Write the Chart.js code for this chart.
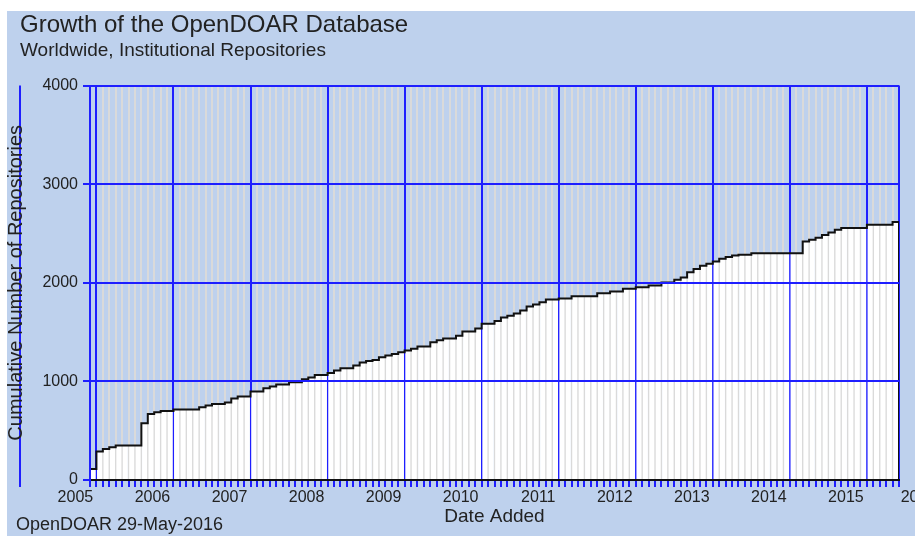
<!DOCTYPE html>
<html>
<head>
<meta charset="utf-8">
<title>Growth of the OpenDOAR Database</title>
<script src="https://cdn.jsdelivr.net/npm/chart.js@4/dist/chart.umd.min.js"></script>
<style>
  html, body { margin: 0; padding: 0; background: #ffffff; }
  #chart { display: block; background: #ffffff; }
</style>
</head>
<body>
<canvas id="chart" width="915" height="536"></canvas>
<script>
// Year labels along the date axis (the last one is cut off by the picture edge)
const yearLabels = ['2005', '2006', '2007', '2008', '2009', '2010', '2011', '2012', '2013', '2014', '2015', '2016'];

// Cumulative number of institutional repositories, one value per month
const cumulativeRepos = [
    112, 288, 315, 332, 349, 349, 349, 349, 575, 670, 687, 700,
    700, 714, 714, 714, 714, 738, 755, 772, 772, 785, 826, 846,
    846, 897, 897, 931, 948, 968, 968, 992, 992, 1022, 1039, 1066,
    1066, 1086, 1110, 1134, 1134, 1161, 1191, 1208, 1218, 1245, 1262, 1279,
    1296, 1313, 1330, 1354, 1354, 1398, 1418, 1435, 1435, 1462, 1506, 1506,
    1536, 1584, 1584, 1612, 1648, 1665, 1689, 1719, 1760, 1780, 1804, 1831,
    1831, 1841, 1841, 1864, 1864, 1864, 1864, 1895, 1895, 1912, 1912, 1939,
    1939, 1956, 1956, 1973, 1973, 2003, 2003, 2030, 2054, 2108, 2139, 2173,
    2193, 2216, 2244, 2261, 2277, 2284, 2284, 2300, 2300, 2300, 2300, 2300,
    2300, 2300, 2300, 2420, 2437, 2457, 2484, 2511, 2538, 2555, 2555, 2555,
    2555, 2589, 2589, 2589, 2589, 2616
];

// Y axis ticks
const yTicks = [0, 1000, 2000, 3000, 4000];

const BG = '#bed1ed';
const BLUE = 'rgb(30, 30, 255)';
const GRAY = '#dadada';
const NONE = 'rgba(0, 0, 0, 0)';
const monthCount = cumulativeRepos.length;

// labels sit just right of each year's first month, the last one past the end
const yearTickPos = yearLabels.map((y, k) => k < yearLabels.length - 1 ? k * 12 + 0.5 : monthCount + 5.8);

function monthGridColor(ctx) {
    const v = ctx.tick.value;
    if (!Number.isInteger(v)) return NONE;
    if (v === 0 || v === monthCount || v % 12 === 1) return BLUE;
    return GRAY;
}

// panel background, footnote and the stray axis line at the far left
const footnote = {
    id: 'footnote',
    beforeDraw(chart) {
        const c = chart.ctx;
        const area = chart.chartArea;
        c.save();
        c.fillStyle = BG;
        c.fillRect(7, 11, chart.width - 7, chart.height - 11);
        c.strokeStyle = BLUE;
        c.lineWidth = 2;
        c.beginPath();
        c.moveTo(20, area.top);
        c.lineTo(20, area.bottom + 7);
        c.stroke();
        c.restore();
    },
    afterDraw(chart) {
        const c = chart.ctx;
        c.save();
        c.fillStyle = '#222';
        c.font = '18px "Liberation Sans", Arial, sans-serif';
        c.textBaseline = 'alphabetic';
        c.fillText('OpenDOAR 29-May-2016', 16, 530);
        c.restore();
    }
};

Chart.defaults.font.family = '"Liberation Sans", Arial, sans-serif';
Chart.defaults.color = '#222';

const monthPoints = cumulativeRepos.map((v, i) => ({ x: i, y: v }));

new Chart(document.getElementById('chart'), {
    type: 'line',
    data: {
        datasets: [
            {
                type: 'line',
                label: 'Repositories',
                data: [{ x: 0, y: 0 }, ...monthPoints, { x: monthCount, y: 0 }],
                stepped: true,
                borderColor: '#111',
                borderWidth: 2,
                pointRadius: 0,
                fill: false,
                order: 1
            },
            {
                type: 'bar',
                label: 'Fill',
                data: cumulativeRepos.map((v, i) => ({ x: i + 0.5, y: v })),
                backgroundColor: '#ffffff',
                borderWidth: 0,
                barThickness: 4.4,
                order: 2
            }
        ]
    },
    options: {
        responsive: false,
        animation: false,
        devicePixelRatio: 1,
        layout: { padding: { left: 20, right: 16, top: 0, bottom: 0 } },
        plugins: {
            legend: { display: false },
            tooltip: { enabled: false },
            title: {
                display: true,
                text: 'Growth of the OpenDOAR Database',
                align: 'start',
                color: '#222',
                font: { size: 24, weight: 'normal' },
                padding: { top: 11, bottom: 0 }
            },
            subtitle: {
                display: true,
                text: 'Worldwide, Institutional Repositories',
                align: 'start',
                color: '#222',
                font: { size: 19 },
                padding: { top: 0, bottom: 23 }
            }
        },
        scales: {
            x: {
                type: 'linear',
                min: 0,
                max: monthCount,
                offset: false,
                afterBuildTicks: scale => {
                    const ticks = [];
                    for (let m = 0; m <= monthCount; m++) ticks.push({ value: m });
                    yearTickPos.forEach(p => ticks.push({ value: p }));
                    scale.ticks = ticks.sort((a, b) => a.value - b.value);
                },
                afterFit: scale => {
                    scale.height = 56;
                    scale.paddingLeft = 0;
                    scale.paddingRight = 0;
                },
                ticks: {
                    autoSkip: false,
                    maxRotation: 0,
                    minRotation: 0,
                    align: 'end',
                    padding: 1,
                    font: { size: 16 },
                    callback: value => {
                        const k = yearTickPos.indexOf(value);
                        return k < 0 ? '' : yearLabels[k];
                    }
                },
                grid: {
                    offset: false,
                    color: monthGridColor,
                    lineWidth: 2,
                    tickLength: 7,
                    tickColor: ctx => Number.isInteger(ctx.tick.value) ? BLUE : NONE
                },
                border: { color: '#111', width: 2, z: 1 },
                title: {
                    display: true,
                    text: 'Date Added',
                    font: { size: 19 },
                    padding: { top: 0, bottom: 8 }
                }
            },
            y: {
                min: 0,
                max: 4000,
                afterBuildTicks: scale => {
                    scale.ticks = yTicks.map(v => ({ value: v }));
                },
                afterFit: scale => {
                    scale.width = 70;
                },
                ticks: {
                    padding: 5,
                    font: { size: 16 },
                    callback: value => String(value)
                },
                grid: {
                    color: ctx => ctx.tick.value === 0 ? NONE : BLUE,
                    lineWidth: 2,
                    tickLength: 7,
                    tickColor: BLUE,
                    z: 1
                },
                border: { color: BLUE, width: 2, z: 1 },
                title: {
                    display: true,
                    text: 'Cumulative Number of Repositories',
                    font: { size: 20 },
                    padding: { top: -16, bottom: 0 }
                }
            }
        }
    },
    plugins: [footnote]
});
</script>
</body>
</html>
